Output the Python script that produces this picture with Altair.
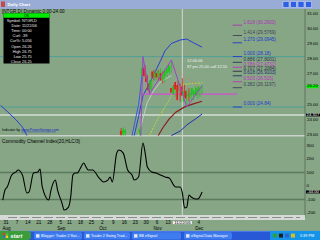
import altair as alt
import pandas as pd

FONT = "Liberation Sans"
BG = "#86a686"

# ---------------- data ----------------
HOLIDAYS = ["2006-09-04", "2006-11-23"]

candle_dates = ["2006-10-13", "2006-10-16", "2006-10-17", "2006-10-26", "2006-10-27", "2006-10-30",
                "2006-10-31", "2006-11-01", "2006-11-02", "2006-11-03", "2006-11-06", "2006-11-07",
                "2006-11-08", "2006-11-09", "2006-11-10", "2006-11-13", "2006-11-14", "2006-11-15",
                "2006-11-16", "2006-11-17", "2006-11-20", "2006-11-21", "2006-11-22", "2006-11-24",
                "2006-11-27", "2006-11-28", "2006-11-29", "2006-11-30", "2006-12-01", "2006-12-04",
                "2006-12-05", "2006-12-06"]
opens = [23.25, 23.00, 23.10, 23.00, 26.95, 27.40, 26.80, 26.40, 26.00, 27.20, 26.80, 27.10,
         26.80, 27.10, 26.60, 26.90, 27.10, 27.20, 26.10, 25.70, 26.50, 26.30, 26.26, 26.20,
         25.20, 25.90, 25.60, 25.50, 25.70, 25.60, 25.60, 25.90]
highs = [23.45, 23.50, 23.40, 23.60, 28.18, 27.60, 26.95, 26.50, 26.70, 27.30, 27.30, 27.30,
         27.40, 27.20, 27.20, 27.50, 27.60, 27.95, 26.30, 26.30, 26.60, 26.40, 26.75, 26.30,
         26.00, 26.10, 26.00, 26.00, 26.20, 26.00, 26.20, 26.30]
lows = [22.95, 22.95, 22.95, 22.95, 26.70, 26.80, 26.35, 25.72, 25.90, 26.60, 26.60, 26.60,
        26.70, 26.40, 26.50, 26.80, 27.00, 27.10, 25.70, 25.50, 25.90, 25.20, 25.75, 25.50,
        24.84, 25.20, 25.30, 25.30, 25.60, 25.40, 25.50, 25.70]
closes = [23.00, 23.35, 23.30, 23.40, 27.40, 26.90, 26.50, 25.95, 26.60, 26.80, 27.10, 26.80,
          27.20, 26.60, 27.10, 27.30, 27.40, 27.60, 25.80, 26.20, 26.00, 25.30, 26.25, 25.60,
          25.90, 25.40, 25.65, 25.80, 26.10, 25.90, 26.10, 26.20]

band_up_a_dates = ["2006-07-27", "2006-08-01", "2006-08-07", "2006-08-10", "2006-08-14"]
band_up_a = [24.95, 24.55, 24.00, 23.50, 22.95]
band_up_b_dates = ["2006-10-23", "2006-10-25", "2006-10-27", "2006-11-01", "2006-11-03", "2006-11-08",
                   "2006-11-10", "2006-11-15", "2006-11-21", "2006-11-27", "2006-11-30", "2006-12-06"]
band_up_b = [22.95, 24.20, 25.60, 26.40, 27.00, 27.90, 28.55, 29.05, 29.28, 29.34, 29.10, 28.80]
steep_dates = ["2006-10-20", "2006-10-25", "2006-10-26", "2006-10-27"]
steep = [22.95, 25.00, 26.20, 27.50]
gray_dates = ["2006-10-25", "2006-10-27", "2006-10-31", "2006-11-03", "2006-11-08", "2006-11-14",
              "2006-11-15"]
gray = [22.95, 24.10, 25.15, 25.95, 26.50, 26.85, 26.90]
lime_dates = ["2006-11-01", "2006-11-06", "2006-11-10", "2006-11-15", "2006-11-20", "2006-11-24",
              "2006-11-30", "2006-12-06"]
lime = [22.95, 23.85, 24.84, 25.57, 26.15, 26.35, 26.40, 26.45]
brown_dates = ["2006-11-07", "2006-11-09", "2006-11-14", "2006-11-17", "2006-11-24", "2006-11-30",
               "2006-12-06"]
brown = [22.95, 23.45, 24.05, 24.50, 24.85, 25.05, 25.22]
band_lo_dates = ["2006-11-15", "2006-11-21", "2006-11-27", "2006-12-01", "2006-12-06"]
band_lo = [22.95, 23.25, 23.65, 24.05, 24.38]
swing_dates = ["2006-10-26", "2006-10-27", "2006-11-01", "2006-11-15", "2006-11-27", "2006-12-06"]
swing = [22.95, 28.18, 25.72, 27.95, 24.84, 26.25]
trend_dates = ["2006-11-07", "2006-12-06"]
trend = [28.20, 26.00]
pivot_level = 25.70
cross_date = "2006-11-22"
cross_price = 24.317

fib_ratios = [1.618, 1.414, 1.270, 1.000, 0.886, 0.786, 0.707, 0.618, 0.500, 0.382, 0.000]
fib_levels = ["30.2603", "29.5769", "29.0945", "28.18", "27.8001", "27.4731", "27.2084",
              "26.9103", "26.515", "26.1197", "24.84"]
fib_colors = ["#b030b8", "#3e4256", "#2236c8", "#2236d0", "#2c3452", "#c030c0", "#2e3040",
              "#22306a", "#c032c0", "#3e4256", "#2236d0"]

price_ticks = [31, 30, 29, 28, 27, 25, 24, 23]
cci_ticks = [300, 200, 100, 0, -100, -200]

cci_dates = ["2006-07-28", "2006-07-31", "2006-08-01", "2006-08-03", "2006-08-07", "2006-08-08",
             "2006-08-10", "2006-08-14", "2006-08-15", "2006-08-17", "2006-08-21", "2006-08-22",
             "2006-08-23", "2006-08-28", "2006-08-29", "2006-08-31", "2006-09-01", "2006-09-06",
             "2006-09-07", "2006-09-11", "2006-09-12", "2006-09-13", "2006-09-14", "2006-09-15",
             "2006-09-18", "2006-09-20", "2006-09-21", "2006-09-22", "2006-09-26", "2006-09-29",
             "2006-10-03", "2006-10-05", "2006-10-06", "2006-10-09", "2006-10-11", "2006-10-12",
             "2006-10-16", "2006-10-18", "2006-10-20", "2006-10-23", "2006-10-25", "2006-10-27",
             "2006-10-30", "2006-10-31", "2006-11-02", "2006-11-06", "2006-11-08", "2006-11-10",
             "2006-11-14", "2006-11-16", "2006-11-17", "2006-11-21", "2006-11-22", "2006-11-24",
             "2006-11-27", "2006-11-28", "2006-11-29", "2006-12-01", "2006-12-04", "2006-12-06"]
cci_values = [-104, -30, -8, 80, 105, 119, 80, -52, -44, 96, 104, 126, -5, -104, -30, 44, -30,
              -126, -178, -156, -81, 81, 96, 96, 119, 170, 141, 119, 119, 59, 30, 44, 67, 30,
              244, 267, 244, 119, 81, 44, 67, 319, 244, 141, 104, 96, 81, 67, 59, 7, -7, -7,
              -52, -163, -156, -67, -81, -96, -96, -44]

tick_dates = ["2006-07-31", "2006-08-07", "2006-08-14", "2006-08-21", "2006-08-28", "2006-09-05",
              "2006-09-11", "2006-09-18", "2006-09-25", "2006-10-02", "2006-10-09", "2006-10-16",
              "2006-10-23", "2006-10-30", "2006-11-06", "2006-11-13", "2006-12-04"]
tick_labels = ["31", "7", "14", "21", "28", "5", "11", "18", "25", "2", "9", "16", "23", "30",
               "6", "13", "4"]
month_dates = ["2006-07-31", "2006-09-05", "2006-10-02", "2006-11-06", "2006-12-04"]
month_labels = ["Aug", "Sep", "Oct", "Nov", "Dec"]

info_keys = ["Symbol:", "Date:", "Time:", "Curl:", "Cur%:", "Open", "High", "Low", "Close"]
info_vals = ["NTGR,D", "11/22/06", "00:00", ".39", "5.056", "26.26", "26.75", "25.75", "26.25"]

task_labels = ["Blogger: Trader 2 Swi...", "Trader 2 Swing Trad...", "BB eSignal",
               "eSignal Data Manager"]

# ---------------- helpers ----------------
TRADING_DAYS = [d.strftime("%Y-%m-%d") for d in pd.bdate_range("2006-07-27", "2006-12-29")
                if d.strftime("%Y-%m-%d") not in HOLIDAYS]
ORIGIN = TRADING_DAYS.index("2006-07-31")
DAY_NO = {d: k - ORIGIN for k, d in enumerate(TRADING_DAYS)}
LAST_DAY = DAY_NO[candle_dates[-1]]

XS = alt.Scale(domain=[0, 100], range=[5, 224], nice=False, zero=False)
PS = alt.Scale(domain=[23, 31], range=[134.8, 14], nice=False, zero=False)
CS = alt.Scale(domain=[-200, 300], range=[213, 145.5], nice=False, zero=False)
ONE = pd.DataFrame({"k": [0]})


def xq(f="d"):
    return alt.X(f"{f}:Q", scale=XS, axis=None)


def yq(f, s):
    return alt.Y(f"{f}:Q", scale=s, axis=None)


def rect(x0, x1, y0, y1, color, **kw):
    return alt.Chart(ONE).mark_rect(color=color, **kw).encode(
        x=alt.value(x0), x2=alt.value(x1), y=alt.value(y0), y2=alt.value(y1))


def label(x, y, s, size=4.5, color="black", align="left", **kw):
    return alt.Chart(ONE).mark_text(text=s, fontSize=size, color=color, align=align,
                                    baseline="middle", font=FONT, **kw).encode(
        x=alt.value(x), y=alt.value(y))


def hrule(x0, x1, y, color, w=1.0, **kw):
    return alt.Chart(ONE).mark_rule(color=color, strokeWidth=w, **kw).encode(
        x=alt.value(x0), x2=alt.value(x1), y=alt.value(y))


def vrule(x, y0, y1, color, w=1.0):
    return alt.Chart(ONE).mark_rule(color=color, strokeWidth=w).encode(
        x=alt.value(x), y=alt.value(y0), y2=alt.value(y1))


def pline(dates, vals, color, w=1.0, dash=None, scale=PS, interp="linear"):
    df = pd.DataFrame({"d": [DAY_NO[x] for x in dates], "v": vals})
    kw = dict(color=color, strokeWidth=w, interpolate=interp)
    if dash:
        kw["strokeDash"] = dash
    return alt.Chart(df).mark_line(**kw).encode(x=xq(), y=yq("v", scale))


def box(w, h, color):
    path = f"M -1 {-h / w:.3f} L 1 {-h / w:.3f} L 1 {h / w:.3f} L -1 {h / w:.3f} Z"
    return dict(shape=path, size=w * w, filled=True, color=color, opacity=1, strokeWidth=0)


layers = []

# window title bar
layers.append(rect(0, 320, 0, 9, "#98acd6"))
layers.append(rect(1, 5, 1.5, 7, "#c84848"))
layers.append(label(7.5, 4.8, "Daily Chart", 4.3, "white", fontWeight="bold"))
for bx in [283, 290.5, 298, 305.5]:
    layers.append(rect(bx, bx + 6, 1.5, 7.5, "#2e5fe4", stroke="white", strokeWidth=0.4))

# horizontal level lines (fib 1.000 and 0.000) across the panel
lvl = pd.DataFrame({"v": [28.18, 24.84]})
layers.append(alt.Chart(lvl).mark_rule(color="#3a9ea0", strokeWidth=0.7).encode(
    x=alt.value(0), x2=alt.value(305), y=yq("v", PS)))

# crosshair lines
layers.append(alt.Chart(pd.DataFrame({"v": [cross_price]})).mark_rule(
    color="#d4dcd4", strokeWidth=1.5).encode(x=alt.value(0), x2=alt.value(305), y=yq("v", PS)))
layers.append(alt.Chart(pd.DataFrame({"d": [DAY_NO[cross_date]]})).mark_rule(
    color="#c6d0c6", strokeWidth=1.2).encode(x=xq(), y=alt.value(9), y2=alt.value(219)))
# panel separator
layers.append(hrule(0, 305, 135.8, "#c8d2c8", 1.5))

# indicator lines in price panel
layers.append(pline(band_up_a_dates, band_up_a, "#2a3ed0", 1.0))
layers.append(pline(band_up_b_dates, band_up_b, "#2a3ed0", 1.0))
layers.append(pline(steep_dates, steep, "#3a58e0", 1.0))
layers.append(pline(gray_dates, gray, "#c8ccc8", 1.0))
layers.append(pline(lime_dates, lime, "#b0e030", 1.0, dash=[2, 1.2]))
layers.append(pline(brown_dates, brown, "#8a1e1e", 1.2))
layers.append(pline(band_lo_dates, band_lo, "#2030b0", 1.0))
layers.append(pline(trend_dates, trend, "#e07262", 1.0, dash=[1, 1.4]))

# pivot magenta level
piv = pd.DataFrame({"d": [DAY_NO["2006-10-26"]], "d2": [LAST_DAY + 16], "v": [pivot_level]})
layers.append(alt.Chart(piv).mark_rule(color="#d24ed2", strokeWidth=1.3).encode(
    x=xq(), x2="d2:Q", y=yq("v", PS)))

# candles
cdf = pd.DataFrame({"d": [DAY_NO[x] for x in candle_dates], "o": opens, "h": highs,
                    "l": lows, "c": closes})
cdf["dir"] = ["up" if c >= o else "down" for o, c in zip(opens, closes)]
ccol = alt.Color("dir:N", scale=alt.Scale(domain=["up", "down"], range=["#1cc41c", "#e01c1c"]),
                 legend=None)
layers.append(alt.Chart(cdf).mark_rule(strokeWidth=0.8).encode(
    x=xq(), y=yq("l", PS), y2="h:Q", color=ccol))
layers.append(alt.Chart(cdf).mark_bar(size=1.7).encode(
    x=xq(), y=yq("o", PS), y2="c:Q", color=ccol))

# swing zigzag
layers.append(pline(swing_dates, swing, "#a442d0", 1.0))

# fib levels
fdf = pd.DataFrame({"d": [LAST_DAY + 14] * len(fib_ratios), "d2": [LAST_DAY + 18.2] * len(fib_ratios),
                    "v": [float(x) for x in fib_levels],
                    "t": [f"{r:.3f} ({lv})" for r, lv in zip(fib_ratios, fib_levels)],
                    "col": fib_colors})
layers.append(alt.Chart(fdf).mark_rule(strokeWidth=0.9).encode(
    x=xq(), x2="d2:Q", y=yq("v", PS), color=alt.Color("col:N", scale=None)))
layers.append(alt.Chart(fdf).mark_text(fontSize=4.6, font=FONT, align="left", baseline="middle",
                                       dx=1.5, dy=-2.6).encode(
    x=alt.X("d2:Q", scale=XS, axis=None), y=yq("v", PS), text="t:N",
    color=alt.Color("col:N", scale=None)))

# hover annotation
layers.append(label(187, 60.5, "12.06.06", 4.0, "#f2f2f2"))
layers.append(label(187, 66.5, "87 pts 25.00 call 12.55", 4.0, "#f2f2f2"))

# header and info box
layers.append(label(2, 11.5, "[NTGR,D] Dynamic 0:00-24:00", 4.6, "black"))
layers.append(rect(3.5, 49.5, 13.3, 63.5, "black"))
layers.append(rect(3.5, 49.5, 13.3, 17.8, "#00ec00"))
layers.append(label(26.5, 15.6, "OK", 3.6, "black", align="center"))
for k, (a, b) in enumerate(zip(info_keys, info_vals)):
    yy = 21.0 + 5.1 * k
    layers.append(label(20.8, yy, a, 3.9, "#ececec", align="right"))
    layers.append(label(22.0, yy, b, 3.9, "#ececec"))

# price axis labels and boxes
pt = pd.DataFrame({"v": price_ticks, "t": [f"{v:.2f}" for v in price_ticks]})
layers.append(alt.Chart(pt).mark_text(fontSize=4.4, font=FONT, align="left", baseline="middle",
                                      color="black").encode(
    x=alt.value(307), y=yq("v", PS), text="t:N"))
gb = pd.DataFrame({"v": [closes[-1]], "t": [f"{closes[-1]:.2f}"]})
layers.append(alt.Chart(gb).mark_point(**box(12, 3.4, "#00f000")).encode(
    x=alt.value(312.5), y=yq("v", PS)))
layers.append(alt.Chart(gb).mark_text(fontSize=4.4, font=FONT, align="center", baseline="middle",
                                      color="black").encode(x=alt.value(312.5), y=yq("v", PS), text="t:N"))
kb = pd.DataFrame({"v": [cross_price], "t": [f"{cross_price:.3f}"]})
layers.append(alt.Chart(kb).mark_point(**box(14, 3.0, "black")).encode(
    x=alt.value(313), y=yq("v", PS)))
layers.append(alt.Chart(kb).mark_text(fontSize=4.2, font=FONT, align="center", baseline="middle",
                                      color="white").encode(x=alt.value(313), y=yq("v", PS), text="t:N"))

layers.append(vrule(305, 9, 217, "#506050", 0.7))

# indicator credit and CCI panel
layers.append(label(2, 130, "Indicator by", 3.5, "black"))
layers.append(label(21.5, 130, "www.PowerSwings.com", 3.5, "#1424c8"))
layers.append(hrule(21.5, 56, 131.9, "#1424c8", 0.4))
layers.append(label(2, 141.5, "Commodity Channel Index(20,HLC/3)", 4.7, "black"))

cref = pd.DataFrame({"v": [100, -100]})
layers.append(alt.Chart(cref).mark_rule(color="#5c7a5c", strokeWidth=1.5).encode(
    x=alt.value(0), x2=alt.value(305), y=yq("v", CS)))
layers.append(pline(cci_dates, cci_values, "black", 1.1, scale=CS, interp="monotone"))

ct = pd.DataFrame({"v": cci_ticks, "t": [str(v) for v in cci_ticks]})
layers.append(alt.Chart(ct).mark_text(fontSize=4.4, font=FONT, align="left", baseline="middle",
                                      color="black").encode(
    x=alt.value(306.5), y=yq("v", CS), text="t:N"))
cb = pd.DataFrame({"v": [cci_values[-1]], "t": [f"{cci_values[-1]:.2f}"]})
layers.append(alt.Chart(cb).mark_point(**box(14, 3.0, "black")).encode(
    x=alt.value(313), y=yq("v", CS)))
layers.append(alt.Chart(cb).mark_text(fontSize=4.2, font=FONT, align="center", baseline="middle",
                                      color="white").encode(x=alt.value(313), y=yq("v", CS), text="t:N"))

# date strip and date axis
layers.append(rect(0, 305, 215, 220, "#d6dad6"))
layers.append(hrule(8, 300, 217.5, "#8a8e8a", 1.2, strokeDash=[9, 3]))
tk = pd.DataFrame({"d": [DAY_NO[x] for x in tick_dates], "t": tick_labels})
layers.append(alt.Chart(tk).mark_text(fontSize=4.6, font=FONT, align="center", baseline="middle",
                                      color="black", dx=1).encode(x=xq(), y=alt.value(222.6), text="t:N"))
mk = pd.DataFrame({"d": [DAY_NO[x] for x in month_dates], "t": month_labels})
layers.append(alt.Chart(mk).mark_text(fontSize=4.6, font=FONT, align="center", baseline="middle",
                                      color="black", dx=1.5).encode(x=xq(), y=alt.value(228.6), text="t:N"))
cd = pd.DataFrame({"d": [DAY_NO[cross_date]], "t": ["11/22/06"]})
layers.append(alt.Chart(cd).mark_point(**box(19, 3.0, "#f4f4f4")).encode(
    x=xq(), y=alt.value(222.6)))
layers.append(alt.Chart(cd).mark_text(fontSize=4.3, font=FONT, align="center", baseline="middle",
                                      color="black").encode(x=xq(), y=alt.value(222.6), text="t:N"))

# taskbar
layers.append(rect(0, 320, 231, 240, "#2858d6"))
layers.append(hrule(0, 320, 231.3, "#5a8af0", 0.8))
layers.append(rect(0, 31, 231, 240, "#3a9c3a", cornerRadiusTopRight=3, cornerRadiusBottomRight=3))
layers.append(rect(3, 5.5, 232.8, 235.3, "#e04020"))
layers.append(rect(5.7, 8.2, 232.8, 235.3, "#40c040"))
layers.append(rect(3, 5.5, 235.5, 238, "#3070e0"))
layers.append(rect(5.7, 8.2, 235.5, 238, "#f0d020"))
layers.append(label(10.5, 235.7, "start", 5.4, "white", fontWeight="bold", fontStyle="italic"))
for (x0, x1), t in zip([(34, 82), (84, 130), (132, 181), (184, 232)], task_labels):
    layers.append(rect(x0, x1, 232.3, 239.5, "#3f7cf0", cornerRadius=1.5))
    layers.append(rect(x0 + 2, x0 + 5.5, 234.2, 237.6, "#dfe8ff"))
    layers.append(label(x0 + 7, 235.9, t, 3.7, "white"))
layers.append(rect(270, 320, 231, 240, "#1494e9"))
for ix, c in zip([273, 279, 285, 291], ["#30a030", "#202020", "#3060d0", "#d0c020"]):
    layers.append(rect(ix, ix + 4, 233.6, 237.6, c))
layers.append(label(307, 235.8, "5:39 PM", 3.8, "white", align="center"))

chart = alt.layer(*layers).resolve_scale(x="independent", y="independent").properties(
    width=320, height=240, autosize=alt.AutoSizeParams(type="none"), padding=0, background=BG
).configure_view(strokeWidth=0)

chart.save("out.html", embed_options={"renderer": "svg", "actions": False})
